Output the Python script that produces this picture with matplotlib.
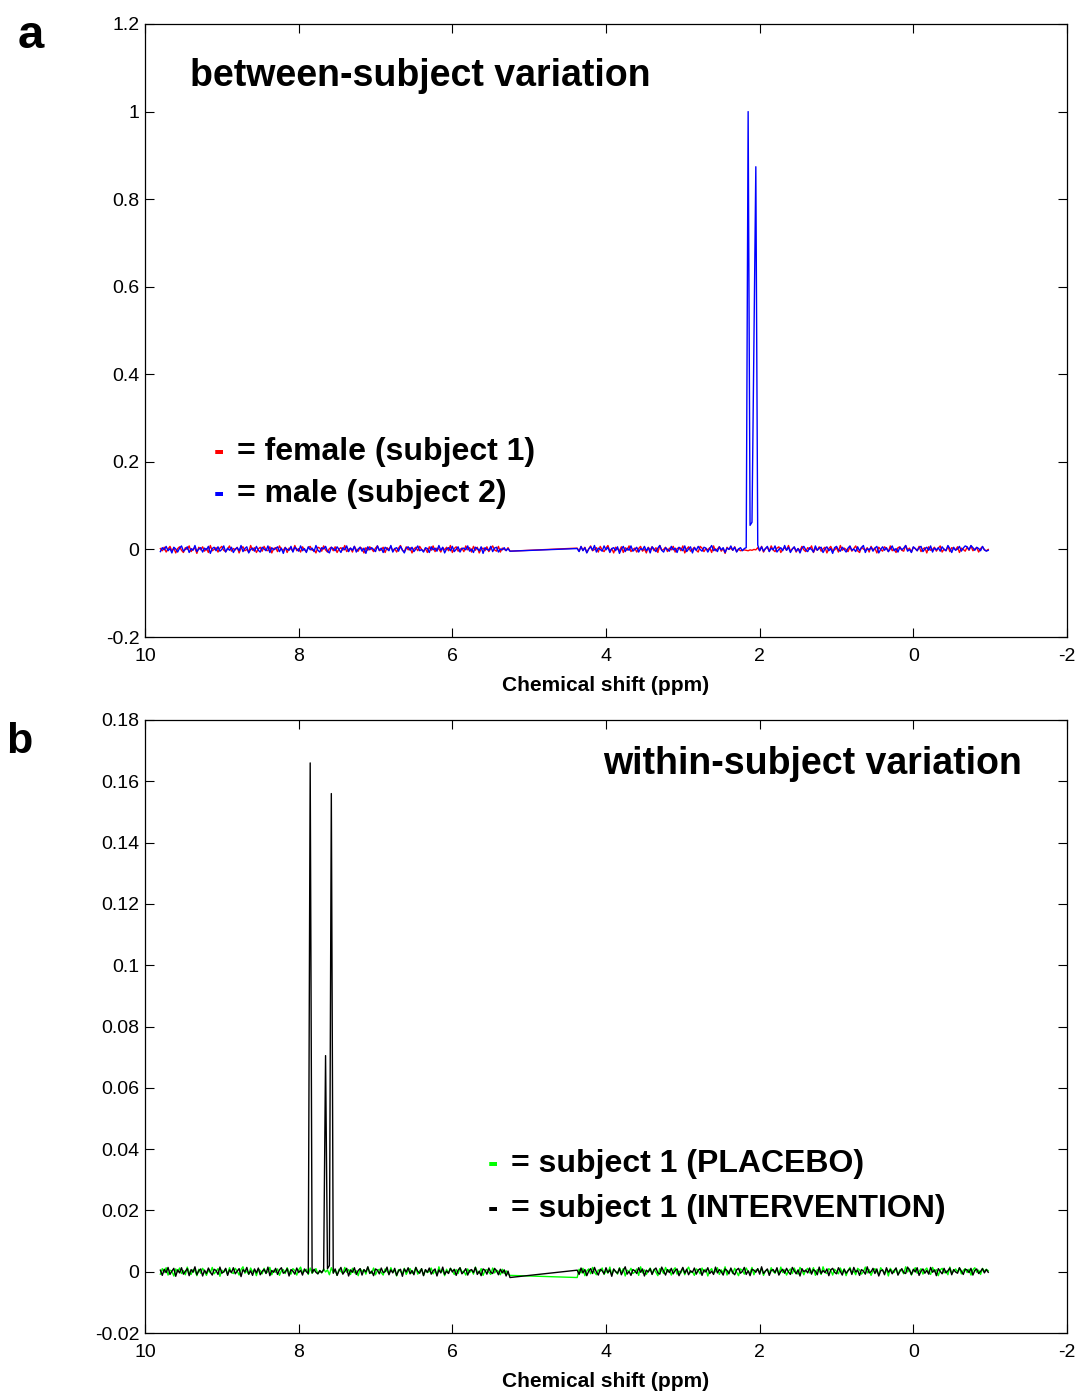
import numpy as np
import matplotlib
matplotlib.use("Agg")
import matplotlib.pyplot as plt

plt.rcParams["font.family"] = ["Liberation Sans", "DejaVu Sans"]

# Chemical-shift sampling (ppm); the water region 5.25-4.375 ppm is excluded
seg1_start, seg1_end = 9.80, 5.25
seg2_start, seg2_end = 4.375, -0.975

# Panel a intensities, units of 0.001 (normalised)
female_s1_hi = [
    2, -3, 5, -6, 1, 7, -4, 3, -8, 2,
    6, -2, -7, 4, 0, 8, -5, 1, 3, -9,
    5, -1, 6, -4, 2, -7, 9, -3, 0, 4,
    -6, 3, 7, -2, -5, 1, 8, -4, 2, -1,
    5, -8, 3, 6, -3, 0, -6, 9, -2, 4,
    -7, 1, 5, -4, 7, -1, -3, 6, -8, 2,
    4, -5, 8, 0, -2, 5, -7, 3, 1, -4,
    9, -3, 2, -6, 6, -1, -5, 4, 7, -2,
    0, -8, 5, 3, -4, 8, -1, -6, 2, 5,
    -3, 6, -7, 1, 4, -2, 9, -5, 0, 3,
    -6, 7, -1, -4, 5, 2, -8, 4, -2, 6,
    1, -5, 3, 8, -3, -1, 5, -7, 4, 0,
    7, -4, 2, -6, 3, 9, -2, -5, 6, -1,
    4, -8, 1, 5, -3, 7, 0, -4, 2, -7,
    6, -2, 8, -5, 3, 1, -6, 4, -1, 5,
    -3, 9, -7, 2, 6, -4, 0, 3, -5, 8,
    -1, 4, -6, 7, -2, 5, -8, 1, 3, -3,
    6, -5, 2, 8, -1, -4, 7, -6, 3, 0,
    -2, 4, -4,
]
female_s1_lo = [
    3, -4, 6, -2, 5, -7, 1, 8, -3, 0,
    4, -6, 7, -1, -5, 3, 9, -4, 2, -8,
    5, 1, -3, 6, -7, 4, -2, 8, -5, 0,
    3, -6, 2, 7, -4, 1, -8, 5, -1, 6,
    -3, 4, -7, 9, -2, 0, 5, -5, 3, -1,
    7, -6, 2, 4, -3, 8, -8, 1, 6, -4,
    0, 5, -2, -6, 7, 3, -5, 2, -1, 4,
    -7, 8, -3, 1, 6, -4, 2, -9, 5, 0,
    3, -2, 6, -5, 1, -3, -2, -1, -2, -3,
    -1, -2, 0, -1, 4, -3, 7, -6, 2, 5,
    -4, 8, -1, -5, 3, 6, -7, 0, 4, -2,
    9, -4, 1, 5, -6, 2, -3, 7, -1, -5,
    4, 0, 8, -7, 3, -2, 6, -4, 1, 5,
    -8, 2, 7, -3, -1, 4, -6, 9, -2, 3,
    0, -5, 6, -4, 2, 8, -3, -7, 5, 1,
    -2, 4, -6, 7, -1, 3, -8, 5, 0, -4,
    6, 2, -5, 8, -3, 1, -7, 4, 6, -2,
    -4, 9, -1, 3, -6, 5, 2, -3, 7, -5,
    1, 4, -8, 6, -2, 0, 5, -4, 3, 8,
    -6, 1, -3, 7, -5, 4, 2, -1, 6, -7,
    3, 0, -4, 5, -2, 8, -3, 1, 4, -6,
    2, 6, -1, -3, 0,
]
male_s2_hi = [
    -5, 4, -1, 7, -3, 2, -8, 5, 1, -6,
    3, 8, -4, 0, 6, -7, 2, -2, 9, -5,
    1, 4, -6, 3, -1, 7, -9, 2, 5, -3,
    6, -4, 0, 8, -6, 3, -2, 5, -7, 1,
    4, -3, 9, -5, 2, 6, -8, 0, 3, -4,
    7, -2, -6, 5, 1, -3, 8, -7, 4, -1,
    2, 6, -5, 3, -9, 4, 0, -2, 7, -6,
    5, 1, -4, 8, -3, 2, -7, 6, -1, 3,
    -5, 9, -2, -6, 4, 1, 7, -4, -8, 5,
    2, -3, 6, 0, -7, 4, -1, 8, -5, 3,
    -2, 7, -6, 1, 5, -4, 3, -9, 6, -1,
    4, 0, -5, 8, -2, 3, -7, 5, 1, -3,
    9, -6, 2, 4, -4, 7, -1, -8, 3, 6,
    -2, 5, -5, 1, 8, -3, 0, -6, 4, 2,
    -7, 6, -1, 3, -4, 9, -2, 5, -8, 1,
    4, -3, 7, -5, 0, 6, -6, 2, 3, -1,
    8, -4, 1, -7, 5, 2, -3, 6, -9, 4,
    0, -2, 7, -5, 3, 5, -6, 1, -1, 4,
    -3, 2, -4,
]
male_s2_lo = [
    2, -5, 7, -3, 4, -8, 1, 6, -2, 9,
    -6, 3, 0, -4, 8, -1, 5, -7, 2, 4,
    -3, 6, -9, 1, 7, -5, 3, -2, 8, -4,
    0, 5, -6, 2, -1, 7, -3, 4, -8, 6,
    1, -5, 3, 9, -2, -6, 4, 0, -4, 7,
    -1, 3, -7, 5, 2, -3, 8, -5, 1, 6,
    -8, 4, -2, 7, 0, -4, 5, 3, -6, 2,
    9, -3, 1, -5, 6, -1, 4, -7, 3, 0,
    8, -2, 5, -6, 1, 4, -3, 2, 4, 1000,
    55, 62, 470, 874, 10, -3, 6, -4, 2, 7,
    -5, 3, -1, 8, -6, 0, 4, -3, 9, -2,
    5, -7, 1, 6, -4, 2, -8, 3, 7, -1,
    -5, 4, 0, -6, 8, -2, 3, 5, -7, 1,
    6, -3, 2, -9, 4, 7, -1, -4, 5, 0,
    -6, 3, 8, -2, 1, -5, 6, -3, 4, 9,
    -7, 2, -1, 5, -4, 3, 7, -8, 0, 6,
    -2, 4, -5, 1, 8, -3, 2, -6, 5, -1,
    3, 9, -4, 0, -7, 6, 2, -3, 4, 7,
    -5, 1, 5, -2, 8, -6, 3, -1, 4, -4,
    6, 0, -3, 9, 2, -7, 5, -2, 1, 7,
    -4, 3, 8, 6, -1, 9, 4, -2, 5, 2,
    -3, 7, -1, -4, -2,
]

# Panel b intensities, units of 0.0001 (normalised)
intervention_hi = [
    5, -12, 8, -3, 14, -9, 2, 11, -15, 6,
    -4, 13, -8, 1, 10, -13, 7, -2, 16, -10,
    3, 9, -14, 5, -6, 12, -1, -11, 8, 4,
    -9, 15, -5, 0, 11, -12, 6, -3, 13, -7,
    2, 10, -16, 7, -1, 14, -8, 3, -12, 9,
    -4, 12, -10, 1, 8, -6, 15, -13, 4, -2,
    11, -9, 6, 13, -5, -1, 10, -14, 7, 2,
    -8, 12, -3, 5, -11, 9, 0, -6, 1660, -4,
    8, -2, -7, 4, -3, 6, 705, 10, 20, 1560,
    -5, 9, -12, 3, 14, -8, 1, 11, -14, 6,
    -2, 13, -9, 4, 10, -11, 7, -1, 16, -6,
    2, -13, 9, 5, -7, 12, -3, 0, 15, -10,
    6, -4, 11, -12, 3, 8, -15, 9, -1, 13,
    -7, 4, -10, 14, 1, -5, 10, -13, 7, -2,
    12, -8, 3, 9, -14, 6, -4, 15, -9, 2,
    -6, 11, -1, 8, -12, 5, 13, -7, 0, 10,
    -11, 4, 7, -3, 14, -9, 2, -13, 9, 5,
    -8, 12, -2, -6, 11, 3, -10, 8, -4, 6,
    -14, 2, -19,
]
intervention_lo = [
    5, -9, 12, -4, 7, -13, 2, 10, -6, 14,
    -1, -11, 8, 3, -7, 13, -3, 6, -15, 9,
    0, -5, 11, -10, 4, 16, -8, 1, -12, 7,
    3, -6, 13, -2, 9, -14, 5, -1, 10, -9,
    6, 12, -4, -8, 15, 2, -11, 7, -3, 11,
    -7, 4, 9, -13, 1, 14, -5, 8, -10, 3,
    -2, 12, -8, 5, 10, -12, 6, -1, 13, -6,
    2, -9, 15, -4, 7, 0, -11, 9, 4, -7,
    12, -3, -10, 6, 11, -5, 1, 14, -9, 3,
    -13, 8, 5, -2, 10, -8, 16, -6, 2, 9,
    -12, 4, 7, -3, 13, -11, 1, 8, -5, 11,
    -1, -9, 14, 3, -7, 6, -14, 10, 0, 5,
    -4, 12, -8, 7, 2, -10, 15, -6, 4, -3,
    9, -13, 6, 11, -2, -7, 13, 1, -11, 8,
    -5, 3, 10, -9, 14, -1, 5, -12, 7, 2,
    -8, 16, -4, 0, 11, -6, 9, -14, 3, 6,
    -10, 13, -2, 7, -7, 4, 12, -11, 1, 10,
    -3, -6, 15, 5, -9, 8, -1, 13, -12, 2,
    9, -5, 4, -8, 14, -2, 6, -13, 10, 1,
    -7, 11, -4, 3, 12, -10, 7, -1, -5, 13,
    2, -9, 8, 6, -3, 11, -11, 4, 9, -6,
    1, 10, -4, 7, -2,
]
placebo_hi = [
    -8, 10, -3, 13, -11, 5, 2, -14, 9, -1,
    12, -6, 4, -10, 15, -2, -9, 7, 3, -13,
    8, -5, 11, 0, -12, 6, -4, 14, -7, 1,
    10, -15, 5, -2, 9, -8, 13, -3, -6, 11,
    2, -11, 7, 16, -5, 3, -9, 12, -1, 6,
    -13, 8, 4, -7, 11, -4, 0, 14, -10, 5,
    -2, 9, -12, 3, 7, -6, 13, -1, -8, 10,
    4, -11, 6, 15, -3, 1, 8, -9, 12, -5,
    3, 10, -7, 2, -4, 9, -1, 6, -10, 13,
    -3, 5, -12, 8, 1, -6, 14, -2, 7, -9,
    11, -4, 3, -13, 10, 0, 6, -8, 15, -1,
    -5, 12, -10, 4, 8, -3, -11, 9, 2, -7,
    13, -2, 5, -14, 7, 1, -6, 11, -9, 4,
    10, -5, -1, 14, -8, 3, 9, -12, 6, -3,
    1, 12, -7, 4, -10, 16, -2, 5, -13, 8,
    -4, 11, 3, -9, 7, -6, 13, -1, 2, -11,
    9, -3, 6, -8, 15, 0, -5, 10, -12, 4,
    7, -2, -9, 12, -4, 5, 1, -10, 8, -6,
    3, -8, -12,
]
placebo_lo = [
    -19, 8, -4, 11, -13, 3, 9, -7, 14, -2,
    -10, 6, 1, 12, -9, 4, -5, 15, -11, 7,
    2, -8, 13, -3, 10, -14, 5, 0, 11, -6,
    -1, 9, -12, 16, -4, 6, -9, 3, 12, -7,
    8, -2, -13, 10, 4, -6, 14, -1, 7, -11,
    5, 13, -8, 2, -4, 11, -10, 6, 15, -3,
    0, -12, 9, 4, -7, 12, -2, 8, -14, 3,
    10, -5, 1, 13, -9, 6, -3, 16, -11, 2,
    7, -6, 11, -1, -13, 9, 4, -8, 12, 0,
    -4, 14, -10, 5, 8, -2, 11, -12, 3, 7,
    -7, 13, 1, -5, 10, -9, 15, -3, 6, -11,
    2, 9, -6, 12, -1, -8, 14, 4, -10, 5,
    11, -4, 0, 13, -12, 7, 3, -9, 16, -2,
    -6, 10, 5, -11, 8, 1, -7, 12, -3, 9,
    -13, 4, 14, -5, 2, -10, 11, 6, -8, 0,
    15, -4, 7, -12, 3, 10, -1, -9, 13, 5,
    -6, 8, -14, 11, 2, -3, 12, -10, 6, 4,
    -7, 16, -1, 9, -11, 3, 13, -5, 1, 10,
    -8, 5, 12, -2, -9, 14, 0, 7, -13, 6,
    11, -4, 3, -10, 15, -6, 2, 9, -1, 12,
    -7, 4, 10, -3, 8, -11, 6, 13, -2, 5,
    -9, 11, 1, 8, 3,
]

x_ticks = [10, 8, 6, 4, 2, 0, -2]
ya_ticks = [-0.2, 0, 0.2, 0.4, 0.6, 0.8, 1, 1.2]
ya_labels = ["-0.2", "0", "0.2", "0.4", "0.6", "0.8", "1", "1.2"]
yb_ticks = [-0.02, 0, 0.02, 0.04, 0.06, 0.08, 0.1, 0.12, 0.14, 0.16, 0.18]
yb_labels = ["-0.02", "0", "0.02", "0.04", "0.06", "0.08", "0.1",
             "0.12", "0.14", "0.16", "0.18"]


def spectrum(hi, lo, unit):
    ppm = np.concatenate([np.linspace(seg1_start, seg1_end, len(hi)),
                          np.linspace(seg2_start, seg2_end, len(lo))])
    return ppm, np.array(hi + lo, dtype=float) * unit


W, H = 1077, 1394
fig = plt.figure(figsize=(W / 100, H / 100), dpi=100)


def fx(px):
    return px / W


def fy(py):
    return 1 - py / H


def make_axes(top, bottom):
    ax = fig.add_axes([fx(145), fy(bottom), fx(1067) - fx(145), fy(top) - fy(bottom)])
    ax.set_xlim(10, -2)
    ax.set_xticks(x_ticks)
    ax.set_xticklabels([str(t) for t in x_ticks])
    ax.tick_params(direction="in", top=True, right=True, length=6.8, width=0.8,
                   labelsize=14, pad=4)
    ax.tick_params(axis="x", pad=8)
    for s in ax.spines.values():
        s.set_linewidth(0.9)
    ax.set_xlabel("Chemical shift (ppm)", fontsize=15, fontweight="bold", labelpad=8)
    return ax


# Panel a: between-subject
ax_a = make_axes(24, 637)
ax_a.set_ylim(-0.2, 1.2)
ax_a.set_yticks(ya_ticks)
ax_a.set_yticklabels(ya_labels)
x, y = spectrum(female_s1_hi, female_s1_lo, 1e-3)
ax_a.plot(x, y, color="#ff0000", lw=1.0)
x, y = spectrum(male_s2_hi, male_s2_lo, 1e-3)
ax_a.plot(x, y, color="#0000ff", lw=1.0)

# Panel b: within-subject
ax_b = make_axes(720, 1333)
ax_b.set_ylim(-0.02, 0.18)
ax_b.set_yticks(yb_ticks)
ax_b.set_yticklabels(yb_labels)
x, y = spectrum(placebo_hi, placebo_lo, 1e-4)
ax_b.plot(x, y, color="#00ff00", lw=1.0)
x, y = spectrum(intervention_hi, intervention_lo, 1e-4)
ax_b.plot(x, y, color="#000000", lw=1.0)

# Panel letters and headings
fig.text(fx(18), fy(48), "a", fontsize=34, fontweight="bold", va="baseline")
fig.text(fx(6), fy(753), "b", fontsize=31, fontweight="bold", va="baseline")
fig.text(fx(190), fy(86), "between-subject variation", fontsize=27,
         fontweight="bold", va="baseline")
fig.text(fx(1022), fy(774), "within-subject variation", fontsize=27,
         fontweight="bold", va="baseline", ha="right")

# Key entries
key_a = [("#ff0000", "= female (subject 1)", 460), ("#0000ff", "= male (subject 2)", 502)]
for col, label, base in key_a:
    fig.text(fx(214), fy(base), "-", color=col, fontsize=22, fontweight="bold", va="baseline")
    fig.text(fx(237), fy(base), label, fontsize=23, fontweight="bold", va="baseline")

key_b = [("#00ff00", "= subject 1 (PLACEBO)", 1172), ("#000000", "= subject 1 (INTERVENTION)", 1217)]
for col, label, base in key_b:
    fig.text(fx(488), fy(base), "-", color=col, fontsize=22, fontweight="bold", va="baseline")
    fig.text(fx(511), fy(base), label, fontsize=23, fontweight="bold", va="baseline")

fig.savefig("out.png", dpi=100)
